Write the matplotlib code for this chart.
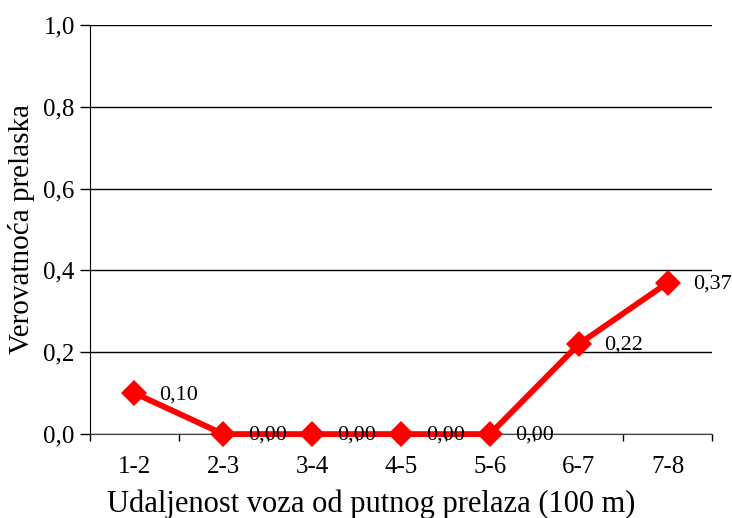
import matplotlib
matplotlib.use("Agg")
import matplotlib.pyplot as plt

# udaljenost (x100 m) i verovatnoca prelaska
intervals = ["1-2", "2-3", "3-4", "4-5", "5-6", "6-7", "7-8"]
probability = [0.10, 0.00, 0.00, 0.00, 0.00, 0.22, 0.37]
y_ticks = [0.0, 0.2, 0.4, 0.6, 0.8, 1.0]

plt.rcParams['font.family'] = ['Liberation Serif', 'DejaVu Serif']

fig = plt.figure(figsize=(7.32, 5.18), dpi=100)
ax = fig.add_axes([0.123, 0.162, 0.850, 0.790])

x = list(range(len(intervals)))
ax.plot(x, probability, color='#ff0000', lw=4.2, marker='D', ms=13,
        markeredgewidth=0, clip_on=False, zorder=3)

for xi, v in zip(x, probability):
    ax.annotate(f"{v:.2f}".replace('.', ','), (xi, v), xytext=(18, -1),
                textcoords='offset points', va='center', ha='left',
                fontsize=16, zorder=4)

ax.set_xlim(-0.5, len(intervals) - 0.5)
ax.set_ylim(0, 1.0)
ax.set_yticks(y_ticks)
ax.set_yticklabels([f"{t:.1f}".replace('.', ',') for t in y_ticks], fontsize=18)
ax.set_xticks(x)
ax.set_xticklabels(intervals, fontsize=18)
ax.set_xticks([i - 0.5 for i in range(len(intervals) + 1)], minor=True)
ax.tick_params(axis='x', which='major', length=0, pad=16)
ax.tick_params(axis='x', which='minor', length=5, direction='out', width=1)
ax.tick_params(axis='y', length=7, width=1, direction='out', pad=4)

ax.grid(axis='y', color='black', lw=1)
ax.set_axisbelow(True)
for s in ('top', 'right'):
    ax.spines[s].set_visible(False)
ax.spines['left'].set_color('black')
ax.spines['bottom'].set_color('#404040')

ax.set_ylabel("Verovatnoća prelaska", fontsize=21, labelpad=6)
ax.set_xlabel("Udaljenost voza od putnog prelaza (100 m)", fontsize=22)
# naslov x ose je centriran na slici, ne na osi
ax.xaxis.set_label_coords(0.452, -0.135)

fig.savefig("out.png", dpi=100)
